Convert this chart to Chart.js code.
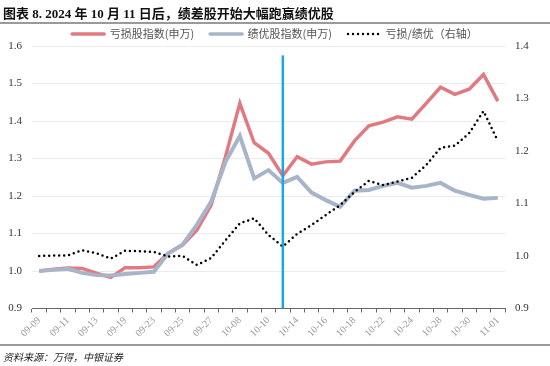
<!DOCTYPE html>
<html>
<head>
<meta charset="utf-8">
<script src="https://cdn.jsdelivr.net/npm/chart.js@4.4.1/dist/chart.umd.min.js"></script>
<style>
  body { margin:0; width:550px; height:366px; background:#fff; position:relative; overflow:hidden;
         font-family:"Liberation Serif","Noto Sans CJK SC",serif; }
  #title { position:absolute; left:3px; top:3px; font-size:13px; font-weight:bold; color:#111; white-space:nowrap; z-index:2; }
  .rule { position:absolute; left:0; width:550px; height:2px; background:#9a9a9a; z-index:2; }
  #wrap { position:absolute; left:0; top:0; width:550px; height:366px; z-index:1; }
  #src { position:absolute; left:3px; top:349px; font-size:10px; font-style:italic; color:#222; z-index:2; }
</style>
</head>
<body>
<div id="title">图表 8. 2024 年 10 月 11 日后，绩差股开始大幅跑赢绩优股</div>
<div class="rule" style="top:22px"></div>
<div id="wrap"><canvas id="c"></canvas></div>
<div class="rule" style="top:344px"></div>
<div id="src">资料来源：万得，中银证券</div>
<script>
// trading days
const dates = ['09-09','09-10','09-11','09-12','09-13','09-18','09-19','09-20','09-23','09-24','09-25',
  '09-26','09-27','09-30','10-08','10-09','10-10','10-11','10-14','10-15','10-16','10-17','10-18',
  '10-21','10-22','10-23','10-24','10-25','10-28','10-29','10-30','10-31','11-01'];
// 亏损股指数(申万), normalised
const lossIndex = [1.000,1.005,1.008,1.007,0.994,0.983,1.009,1.009,1.011,1.047,1.069,
  1.109,1.176,1.305,1.447,1.342,1.314,1.254,1.305,1.285,1.291,1.293,1.347,
  1.387,1.397,1.411,1.405,1.447,1.490,1.471,1.485,1.524,1.453];
// 绩优股指数(申万), normalised
const qualityIndex = [1.000,1.003,1.006,0.995,0.989,0.988,0.992,0.995,0.998,1.047,1.070,
  1.123,1.185,1.291,1.360,1.247,1.269,1.235,1.251,1.209,1.189,1.171,1.214,
  1.216,1.227,1.235,1.222,1.227,1.235,1.214,1.203,1.193,1.195];
// 亏损/绩优 (right axis)
const lossToQuality = [1.000,1.001,1.001,1.011,1.005,0.995,1.010,1.009,1.008,0.999,1.000,
  0.983,0.996,1.030,1.062,1.072,1.040,1.018,1.042,1.059,1.078,1.097,1.122,
  1.143,1.135,1.142,1.149,1.173,1.206,1.210,1.234,1.276,1.219];
const leftRange = [0.9, 1.6];
const rightRange = [0.9, 1.4];
const tickStep = 0.1;
const markerDate = '10-11';
const markerTop = 1.575;

const RED = '#e07980', GREY = '#a8b5c8', MARK = '#1ba7e0';
const tickFont = { family:'"Liberation Serif", serif', size:11 };

// blue marker on 10-11
const markerLine = {
  id:'markerLine',
  afterDatasetsDraw(chart) {
    const x = chart.scales.x.getPixelForValue(dates.indexOf(markerDate));
    const top = chart.scales.y.getPixelForValue(markerTop);
    const ctx = chart.ctx;
    ctx.save();
    ctx.strokeStyle = MARK; ctx.lineWidth = 2.5;
    ctx.beginPath(); ctx.moveTo(x, top); ctx.lineTo(x, chart.chartArea.bottom); ctx.stroke();
    ctx.restore();
  }
};

new Chart(document.getElementById('c').getContext('2d'), {
  type:'line',
  data:{
    labels:dates,
    datasets:[
      { label:'亏损股指数(申万)', data:lossIndex, borderColor:RED, borderWidth:3.5, pointRadius:0, yAxisID:'y', order:3 },
      { label:'绩优股指数(申万)', data:qualityIndex, borderColor:GREY, borderWidth:4, pointRadius:0, yAxisID:'y', order:2 },
      { label:'亏损/绩优（右轴）', data:lossToQuality, borderColor:'#000', borderWidth:2.5, borderDash:[0,5],
        borderCapStyle:'round', pointRadius:0, yAxisID:'y1', order:1 }
    ]
  },
  options:{
    responsive:true, maintainAspectRatio:false, animation:false,
    layout:{ padding:{ top:12.5, left:0, right:0, bottom:0 } },
    plugins:{
      tooltip:{ enabled:false },
      legend:{
        position:'top', maxHeight:33.5,
        labels:{
          usePointStyle:true, pointStyleWidth:32, padding:16, color:'#555',
          font:{ family:'"Noto Sans CJK SC", sans-serif', size:11 },
          generateLabels:(chart) => chart.data.datasets.map((d, i) => ({
            text:d.label, datasetIndex:i, pointStyle:'line', fillStyle:d.borderColor,
            strokeStyle:d.borderColor, lineWidth:i === 2 ? 2.5 : 3.5,
            lineDash:i === 2 ? [0,5] : [], lineCap:'round', fontColor:'#555'
          }))
        }
      }
    },
    scales:{
      x:{
        offset:true,
        grid:{ display:true, drawOnChartArea:false, drawTicks:true, tickLength:4, color:'#666', offset:true },
        border:{ display:true, color:'#666' },
        ticks:{ autoSkip:false, minRotation:45, maxRotation:45, color:'#999', font:{ family:'"Liberation Serif", serif', size:10 },
          padding:2, callback:(v, i) => i % 2 === 0 ? dates[i] : '' },
        afterFit:(s) => { s.height = 57.5; }
      },
      y:{
        position:'left', min:leftRange[0], max:leftRange[1],
        grid:{ color:'#ebebeb', drawTicks:false },
        border:{ display:false },
        ticks:{ stepSize:tickStep, padding:10, color:'#333', font:tickFont, callback:(v) => v.toFixed(1) },
        afterFit:(s) => { s.width = 32; }
      },
      y1:{
        position:'right', min:rightRange[0], max:rightRange[1],
        grid:{ display:false, drawTicks:false },
        border:{ display:false },
        ticks:{ stepSize:tickStep, padding:10, color:'#333', font:tickFont, callback:(v) => v.toFixed(1) },
        afterFit:(s) => { s.width = 45; }
      }
    }
  },
  plugins:[markerLine]
});
</script>
</body>
</html>
